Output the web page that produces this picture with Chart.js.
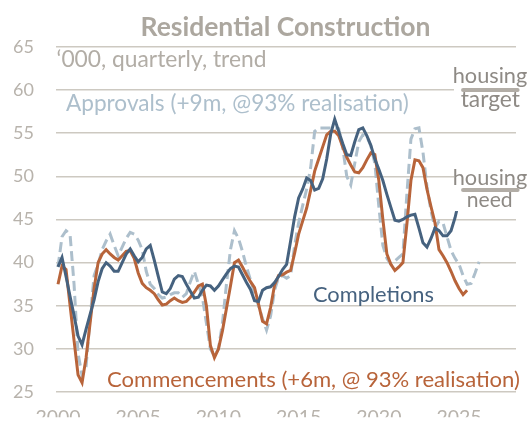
<!DOCTYPE html>
<html>
<head>
<meta charset="utf-8">
<script src="https://cdn.jsdelivr.net/npm/chart.js@4.4.1/dist/chart.umd.min.js"></script>
<style>
  html, body { margin: 0; padding: 0; background: #ffffff; }
  #wrap { width: 529px; height: 425px; }
</style>
</head>
<body>
<div id="wrap"><canvas id="c" width="529" height="425"></canvas></div>
<script>
// ---------------- data (quarterly, '000, trend) ----------------
const START_YEAR = 2000;      // year of the first quarterly value in every series
const QUARTER = 0.25;

const completions = [
  39.5, 40.6, 38.4, 36.1,   // 2000
  33.9, 31.5, 30.5, 32.3,   // 2001
  34.0, 35.7, 37.8, 39.3,   // 2002
  40.0, 39.6, 39.0, 39.0,   // 2003
  40.0, 41.0, 41.6, 40.8,   // 2004
  40.1, 40.6, 41.6, 42.0,   // 2005
  40.3, 38.4, 36.6, 36.4,   // 2006
  37.0, 38.1, 38.5, 38.4,   // 2007
  37.5, 36.7, 35.9, 36.0,   // 2008
  36.8, 37.4, 37.3, 36.8,   // 2009
  37.3, 38.0, 38.7, 39.3,   // 2010
  39.6, 39.5, 38.6, 37.7,   // 2011
  36.9, 35.6, 35.5, 36.8,   // 2012
  37.1, 37.2, 37.7, 38.4,   // 2013
  39.2, 39.8, 42.5, 45.3,   // 2014
  47.5, 48.5, 49.8, 49.5,   // 2015
  48.4, 48.6, 49.7, 52.0,   // 2016
  54.9, 56.6, 55.2, 53.8,   // 2017
  52.5, 52.4, 54.0, 55.4,   // 2018
  55.6, 54.7, 53.6, 52.0,   // 2019
  50.8, 49.5, 47.9, 46.4,   // 2020
  44.9, 44.8, 45.0, 45.3,   // 2021
  45.5, 45.6, 44.0, 42.3,   // 2022
  41.8, 42.8, 44.0, 43.7,   // 2023
  43.1, 43.1, 43.7, 45.2,   // 2024
  47.2                      // 2025
];

const commencements = [
  37.5, 39.6, 39.2, 35.1,   // 2000
  31.0, 27.0, 26.1, 29.0,   // 2001
  33.0, 37.0, 40.0, 41.0,   // 2002
  41.5, 41.0, 40.6, 40.3,   // 2003
  40.8, 41.3, 41.4, 40.5,   // 2004
  38.8, 37.6, 37.1, 36.8,   // 2005
  36.4, 35.7, 35.1, 35.2,   // 2006
  35.6, 35.9, 35.6, 35.4,   // 2007
  35.5, 36.0, 36.6, 37.3,   // 2008
  37.5, 35.0, 30.4, 29.0,   // 2009
  30.0, 32.1, 34.7, 37.3,   // 2010
  40.0, 40.3, 39.5, 38.6,   // 2011
  37.8, 37.1, 35.2, 33.2,   // 2012
  32.9, 34.8, 37.4, 38.5,   // 2013
  38.6, 38.9, 39.1, 41.1,   // 2014
  43.3, 44.8, 46.3, 48.4,   // 2015
  50.6, 52.0, 53.4, 54.8,   // 2016
  55.2, 55.2, 54.7, 53.4,   // 2017
  52.2, 51.3, 50.5, 50.4,   // 2018
  51.0, 51.9, 52.7, 52.5,   // 2019
  49.5, 45.0, 41.0, 39.8,   // 2020
  39.1, 39.5, 40.0, 44.5,   // 2021
  49.5, 51.9, 51.8, 51.0,   // 2022
  48.5, 46.5, 44.6, 41.5,   // 2023
  40.8, 40.0, 39.0, 37.9,   // 2024
  37.0, 36.3, 36.8          // 2025
];

const approvals = [
  39.5, 43.0, 43.7, 43.3,   // 2000
  37.5, 29.5, 26.9, 28.0,   // 2001
  33.5, 38.5, 39.8, 41.5,   // 2002
  42.5, 43.3, 42.0, 40.8,   // 2003
  41.8, 42.8, 43.5, 43.3,   // 2004
  42.6, 41.5, 39.0, 37.5,   // 2005
  37.0, 36.3, 35.9, 36.0,   // 2006
  36.3, 36.5, 36.5, 36.0,   // 2007
  36.4, 37.8, 39.0, 37.5,   // 2008
  36.0, 33.0, 30.0, 29.2,   // 2009
  30.0, 33.0, 37.5, 41.5,   // 2010
  43.7, 42.8, 41.3, 39.5,   // 2011
  38.0, 36.5, 35.0, 33.5,   // 2012
  32.2, 33.8, 36.8, 38.3,   // 2013
  38.5, 38.2, 38.5, 42.0,   // 2014
  44.6, 46.6, 48.5, 51.0,   // 2015
  55.2, 55.6, 55.6, 55.6,   // 2016
  55.6, 55.6, 55.5, 53.3,   // 2017
  50.0, 49.0, 51.5, 54.0,   // 2018
  54.8, 54.6, 53.5, 51.5,   // 2019
  46.5, 42.0, 40.5, 39.8,   // 2020
  40.2, 40.6, 41.0, 48.0,   // 2021
  54.3, 55.5, 55.6, 52.8,   // 2022
  48.8, 46.0, 44.0, 44.8,   // 2023
  44.6, 43.0, 41.4, 40.5,   // 2024
  39.8, 38.5, 37.5, 37.6,   // 2025
  38.8, 40.1                // 2026
];

const xTickYears = [2000, 2005, 2010, 2015, 2020, 2025];
const yTickValues = [25, 30, 35, 40, 45, 50, 55, 60, 65];

const housingTarget = 60;      // '000 per quarter
const housingNeed = 48.4;      // '000 per quarter
const housingSpan = [2025.25, 2028.65];

// ---------------- styling ----------------
const FONT = 'Lato, "Open Sans", "DejaVu Sans", sans-serif';
const C_BLUE = '#46627f';
const C_ORANGE = '#b8643a';
const C_DASH = '#adbfcc';
const C_GRID = '#cdc9c1';
const C_TICK = '#b8b3ac';
const C_TITLE = '#aca79f';
const C_SUB = '#b2ada6';
const C_HOUSE = '#8e8a85';
const C_BAR = '#b2ada6';

function toPoints(values) {
  return values.map((v, i) => ({ x: START_YEAR + i * QUARTER, y: v }));
}

function fitText(ctx, text, x, baseline, width, weight, color) {
  let size = 20;
  ctx.font = `${weight} ${size}px ${FONT}`;
  const w = ctx.measureText(text).width;
  size = size * width / w;
  ctx.font = `${weight} ${size}px ${FONT}`;
  ctx.fillStyle = color;
  ctx.textAlign = 'left';
  ctx.textBaseline = 'alphabetic';
  ctx.fillText(text, x, baseline);
}

const annotate = {
  id: 'annotate',
  afterDatasetsDraw(chart) {
    const ctx = chart.ctx;
    const xs = chart.scales.x, ys = chart.scales.y;
    ctx.save();
    // title & subtitle
    fitText(ctx, 'Residential Construction', 140.5, 35.7, 290, 'bold', C_TITLE);
    fitText(ctx, '\u2018000, quarterly, trend', 56.5, 67, 210, 'normal', C_SUB);
    // series labels
    fitText(ctx, 'Approvals (+9m, @93% realisation)', 66, 111, 343, 'normal', C_DASH);
    fitText(ctx, 'Completions', 313, 301.5, 121, 'normal', C_BLUE);
    fitText(ctx, 'Commencements (+6m, @ 93% realisation)', 107, 386.7, 413, 'normal', C_ORANGE);

    // housing labels with white backing
    const yT = ys.getPixelForValue(housingTarget);
    const yN = ys.getPixelForValue(housingNeed);
    ctx.fillStyle = '#ffffff';
    ctx.fillRect(454, yT - 22, 75, 44);
    ctx.fillRect(454, yN - 21, 75, 42);
    fitText(ctx, 'housing', 452.7, yT - 6.7, 74.6, 'normal', C_HOUSE);
    fitText(ctx, 'target', 460.7, yT + 17, 59.3, 'normal', C_HOUSE);
    fitText(ctx, 'housing', 452.7, yN - 5.3, 74.6, 'normal', C_HOUSE);
    fitText(ctx, 'need', 466.7, yN + 17.4, 46, 'normal', C_HOUSE);

    // housing target / need bars
    ctx.strokeStyle = C_BAR;
    ctx.lineWidth = 4;
    ctx.lineCap = 'round';
    [housingTarget, housingNeed].forEach(v => {
      const y = ys.getPixelForValue(v);
      ctx.beginPath();
      ctx.moveTo(xs.getPixelForValue(housingSpan[0]), y);
      ctx.lineTo(xs.getPixelForValue(housingSpan[1]), y);
      ctx.stroke();
    });
    ctx.restore();
  }
};

new Chart(document.getElementById('c'), {
  type: 'line',
  data: {
    datasets: [
      { label: 'Completions', data: toPoints(completions), borderColor: C_BLUE, borderWidth: 3, pointRadius: 0, tension: 0, fill: false },
      { label: 'Commencements (+6m, @ 93% realisation)', data: toPoints(commencements), borderColor: C_ORANGE, borderWidth: 3, pointRadius: 0, tension: 0, fill: false },
      { label: 'Approvals (+9m, @93% realisation)', data: toPoints(approvals), borderColor: C_DASH, borderWidth: 3, borderDash: [10, 5], pointRadius: 0, tension: 0, fill: false }
    ]
  },
  options: {
    responsive: false,
    devicePixelRatio: 1,
    animation: false,
    layout: { padding: { top: 46.7, right: 13, left: 0, bottom: 0 } },
    plugins: { legend: { display: false }, tooltip: { enabled: false }, title: { display: false } },
    scales: {
      x: {
        type: 'linear',
        min: 1999.875,
        max: 2028.55,
        grid: { display: false },
        border: { display: false },
        afterBuildTicks(scale) { scale.ticks = xTickYears.map(v => ({ value: v })); },
        afterFit(scale) { scale.height = 25; },
        ticks: {
          autoSkip: false,
          maxRotation: 0,
          padding: 6,
          color: C_TICK,
          font: { family: FONT, size: 19.5 },
          callback: v => String(v)
        }
      },
      y: {
        min: 25,
        max: 65,
        grid: { color: C_GRID, lineWidth: 1.5, drawTicks: false },
        border: { display: false },
        afterBuildTicks(scale) { scale.ticks = yTickValues.map(v => ({ value: v })); },
        afterFit(scale) { scale.width = 56; },
        ticks: {
          padding: 22,
          color: C_TICK,
          font: { family: FONT, size: 18 },
          callback: v => String(v)
        }
      }
    }
  },
  plugins: [annotate]
});
</script>
</body>
</html>
